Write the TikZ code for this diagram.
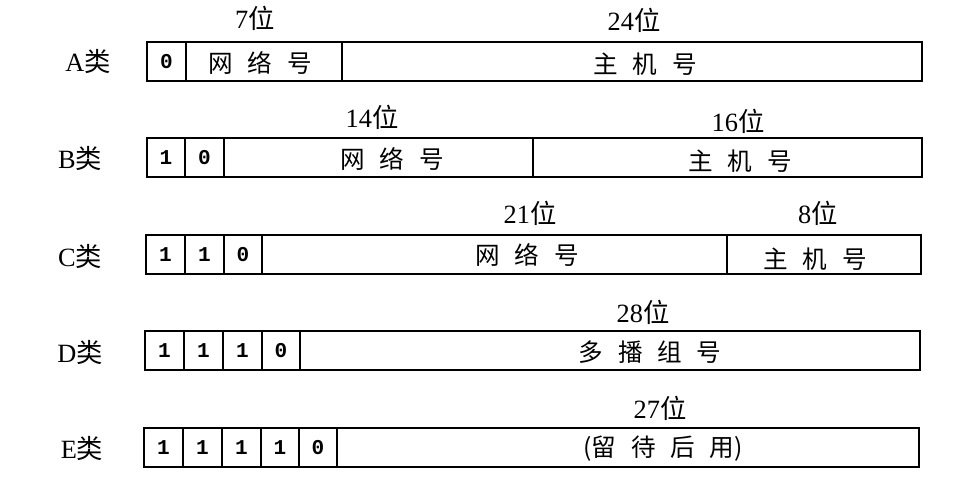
\documentclass[tikz,border=0pt]{standalone}
\usepackage{fontspec}
\setmainfont{Liberation Serif}
\newfontfamily\cjk{Noto Sans CJK SC}
\newfontfamily\bitfont{Liberation Mono}
\usepackage{tikz}
\newcommand{\zh}[1]{{\cjk #1}}
\newcommand{\gap}{\hspace{0.6em}}

\tikzset{
	field/.style = {draw, line width = 1pt},
	bit/.style = {font = \fontsize{12}{13}\selectfont\bitfont\bfseries},
	width label/.style = {font = \fontsize{15}{17}\selectfont},
	class label/.style = {font = \fontsize{15}{17}\selectfont},
	field text/.style = {font = \fontsize{14}{16}\selectfont\cjk}
}

\begin{document}
\begin{tikzpicture}[x = 0.02cm, y = -0.02cm]
		\useasboundingbox (0, 0) rectangle (956, 496);
		% A class
		\begin{scope}
			\draw[field] (147, 42) rectangle (922, 81)
				(186, 42) -- (186, 81)
				(342, 42) -- (342, 81);
			\node[class label] (clsA) at (88, 62) {A\zh{类}};
			\node[bit] (a1) at (166.5, 61.5) {0};
			\node[field text] (netA) at (260, 63) {网\gap 络\gap 号};
			\node[field text] (hostA) at (645, 64) {主\gap 机\gap 号};
			\node[width label] (wA1) at (255, 18) {7\zh{位}};
			\node[width label] (wA2) at (634, 20) {24\zh{位}};
		\end{scope}
		% B class
		\begin{scope}
			\draw[field] (147, 138) rectangle (922, 177)
				(185, 138) -- (185, 177)
				(224, 138) -- (224, 177)
				(533, 138) -- (533, 177);
			\node[class label] (clsB) at (80, 159) {B\zh{类}};
			\node[bit] (b1) at (166, 157.5) {1};
			\node[bit] (b2) at (204.5, 157.5) {0};
			\node[field text] (netB) at (392, 159) {网\gap 络\gap 号};
			\node[field text] (hostB) at (740, 161) {主\gap 机\gap 号};
			\node[width label] (wB1) at (372, 117) {14\zh{位}};
			\node[width label] (wB2) at (738, 121) {16\zh{位}};
		\end{scope}
		% C class
		\begin{scope}
			\draw[field] (146, 235) rectangle (921, 274)
				(185, 235) -- (185, 274)
				(224, 235) -- (224, 274)
				(262, 235) -- (262, 274)
				(727, 235) -- (727, 274);
			\node[class label] (clsC) at (80, 256) {C\zh{类}};
			\node[bit] (c1) at (165.5, 254.5) {1};
			\node[bit] (c2) at (204.5, 254.5) {1};
			\node[bit] (c3) at (243, 254.5) {0};
			\node[field text] (netC) at (527, 255) {网\gap 络\gap 号};
			\node[field text] (hostC) at (815, 259) {主\gap 机\gap 号};
			\node[width label] (wC1) at (530, 213) {21\zh{位}};
			\node[width label] (wC2) at (818, 213) {8\zh{位}};
		\end{scope}
		% D class
		\begin{scope}
			\draw[field] (145, 331) rectangle (920, 370)
				(184, 331) -- (184, 370)
				(223, 331) -- (223, 370)
				(262, 331) -- (262, 370)
				(300, 331) -- (300, 370);
			\node[class label] (clsD) at (80, 352) {D\zh{类}};
			\node[bit] (d1) at (164.5, 350.5) {1};
			\node[bit] (d2) at (203.5, 350.5) {1};
			\node[bit] (d3) at (242.5, 350.5) {1};
			\node[bit] (d4) at (281, 350.5) {0};
			\node[field text] (groupD) at (650, 352) {多\gap 播\gap 组\gap 号};
			\node[width label] (wD) at (643, 312) {28\zh{位}};
		\end{scope}
		% E class
		\begin{scope}
			\draw[field] (144, 428) rectangle (919, 467)
				(183, 428) -- (183, 467)
				(222, 428) -- (222, 467)
				(261, 428) -- (261, 467)
				(299, 428) -- (299, 467)
				(337, 428) -- (337, 467);
			\node[class label] (clsE) at (82, 448) {E\zh{类}};
			\node[bit] (e1) at (163.5, 447.5) {1};
			\node[bit] (e2) at (202.5, 447.5) {1};
			\node[bit] (e3) at (241.5, 447.5) {1};
			\node[bit] (e4) at (280, 447.5) {1};
			\node[bit] (e5) at (318, 447.5) {0};
			\node[field text] (restE) at (663, 449) {(留\gap 待\gap 后\gap 用)};
			\node[width label] (wE) at (660, 408) {27\zh{位}};
		\end{scope}
	\end{tikzpicture}
\end{document}
